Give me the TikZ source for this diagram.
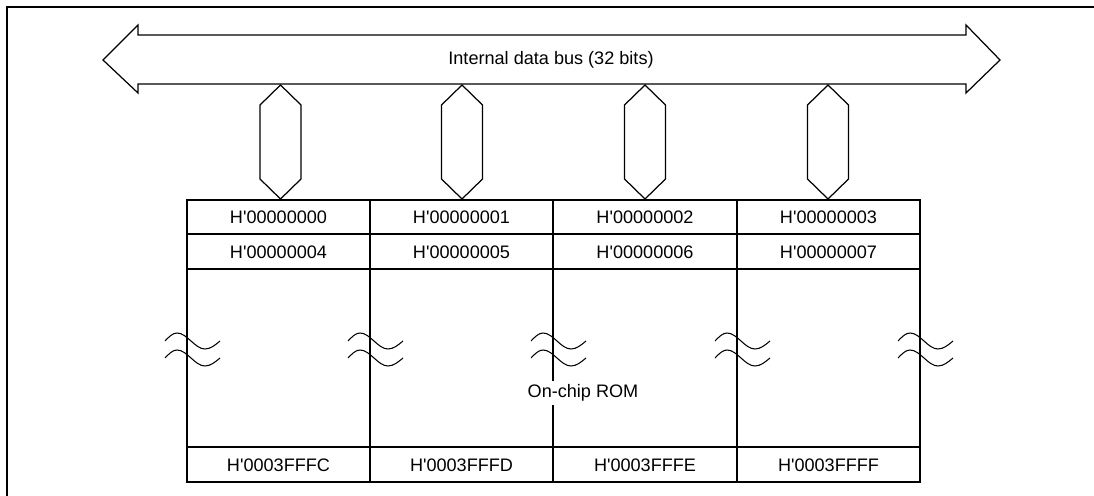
\documentclass[tikz,border=0pt]{standalone}
\usepackage{fontspec}
\setmainfont{Liberation Sans}
\newcommand{\hq}{H\textquotesingle}
\begin{document}
\begin{tikzpicture}[x=0.02cm,y=-0.02cm,
  frameline/.style={line width=1.2pt},
  tabline/.style={line width=1.1pt},
  thin/.style={line width=0.7pt},
  wave/.style={line width=0.6pt},
  lbl/.style={font=\fontsize{10.3}{12}\selectfont, inner sep=0pt}]
\useasboundingbox (0,0) rectangle (1094,496);
% frame
\draw[frameline] (7,496) -- (7,7) -- (1094,7);
% bus arrow
\draw[thin] (103,60) -- (138,25) -- (138,35) -- (966,35) -- (966,25) -- (1000,60)
  -- (966,93) -- (966,84) -- (138,84) -- (138,93) -- cycle;
\node[lbl] (bus) at (551,60) {Internal data bus (32 bits)};
% hexagonal links
\foreach \cx in {280.5,462,645,828}{
  \draw[thin] (\cx,85) -- (\cx+20.5,105) -- (\cx+20.5,179) -- (\cx,199) -- (\cx-20.5,179) -- (\cx-20.5,105) -- cycle;
}
% table
\draw[tabline] (187,200) rectangle (920,482);
\draw[tabline] (187,234) -- (920,234);
\draw[tabline] (187,269) -- (920,269);
\draw[tabline] (187,447) -- (920,447);
\foreach \x in {370,553,737}{
  \draw[tabline] (\x,200) -- (\x,482);
}
% break marks
\foreach \x in {187,370,553,737,920}{
  \foreach \dy in {0,17}{
    \draw[wave] (\x-22,341+\dy) sin (\x-10,333+\dy) cos (\x+4,341+\dy) sin (\x+18,349+\dy) cos (\x+33,341+\dy);
  }
}
% labels
\node[lbl] (a0) at (278.5,217) {\hq00000000};
\node[lbl] (a1) at (461.5,217) {\hq00000001};
\node[lbl] (a2) at (645,217) {\hq00000002};
\node[lbl] (a3) at (828.5,217) {\hq00000003};
\node[lbl] (a4) at (278.5,252) {\hq00000004};
\node[lbl] (a5) at (461.5,252) {\hq00000005};
\node[lbl] (a6) at (645,252) {\hq00000006};
\node[lbl] (a7) at (828.5,252) {\hq00000007};
\node[lbl] (b0) at (278.5,465) {\hq0003FFFC};
\node[lbl] (b1) at (461.5,465) {\hq0003FFFD};
\node[lbl] (b2) at (645,465) {\hq0003FFFE};
\node[lbl] (b3) at (828.5,465) {\hq0003FFFF};
\node[lbl, fill=white, inner xsep=2pt, inner ysep=2pt] (rom) at (583,393) {On-chip ROM};
\end{tikzpicture}
\end{document}
